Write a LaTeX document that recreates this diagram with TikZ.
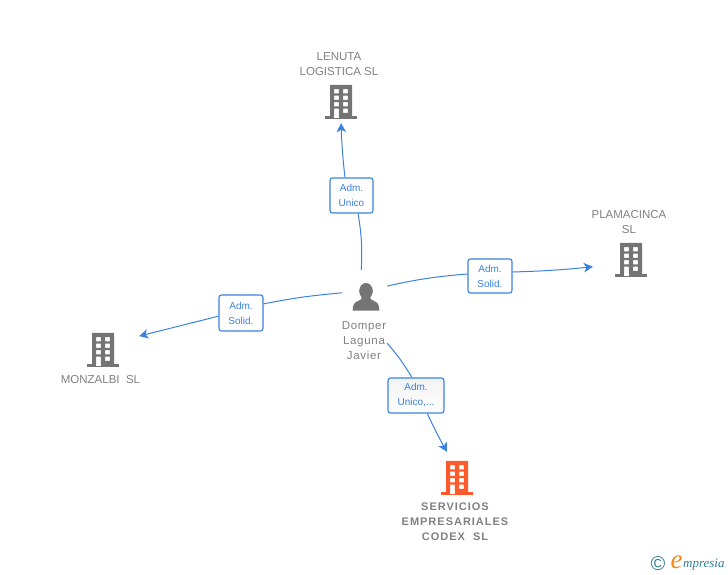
\documentclass[tikz,border=0pt]{standalone}
\usepackage{fontspec}
\setmainfont{Liberation Sans}
\newfontfamily\logofont{Liberation Serif}
\usetikzlibrary{arrows.meta}
\definecolor{txtgray}{HTML}{808080}
\definecolor{icongray}{HTML}{747474}
\definecolor{linkblue}{HTML}{3B82DE}
\definecolor{iconorange}{HTML}{FF5A2B}
\definecolor{logoteal}{HTML}{2F7F95}
\definecolor{logoorange}{HTML}{F08A1D}
\tikzset{
  x=1pt,y=1pt,
  captxt/.style={text=txtgray,align=center,inner sep=0pt,font=\fontsize{11.5}{15}\selectfont},
  role/.style={draw=linkblue,line width=1.1pt,rounded corners=2.5pt,fill=white,text=linkblue,
     align=center,inner sep=0pt,font=\fontsize{10}{15}\selectfont},
  link/.style={draw=linkblue,line width=1pt},
  arrowlink/.style={link,-{Stealth[length=9pt,width=9.5pt,inset=2.5pt]}},
  slot/.style={inner sep=0pt,minimum width=76pt},
  pics/bldg/.style={code={
    \fill[#1,even odd rule]
      (-11,-17) rectangle (11,17)
      (-6.8,12.8) rectangle (-2.2,8.6) (2.2,12.8) rectangle (6.8,8.6)
      (-6.8,6.4) rectangle (-2.2,2.2) (2.2,6.4) rectangle (6.8,2.2)
      (-6.8,-0.1) rectangle (-2.2,-4.3) (2.2,-0.1) rectangle (6.8,-4.3)
      (-6.8,-6.6) rectangle (-2.2,-17) (2.2,-6.6) rectangle (6.8,-10.8);
    \fill[#1] (-16,-17) rectangle (16,-14.5);
    \fill[white] (-6.8,-14.5) rectangle (-2.2,-15.6);
  }}
}
\begin{document}
\begin{tikzpicture}
\useasboundingbox (0,0) rectangle (728,575);
% entity slots (invisible), icons drawn in them
\node[slot,minimum height=42pt] (lenuta) at (341,473) {};
\node[slot,minimum height=42pt] (plama) at (631,315) {};
\node[slot,minimum width=72pt,minimum height=42pt] (monza) at (103,225) {};
\node[slot,minimum height=52pt] (servi) at (457,97) {};
\node[inner sep=0pt,minimum width=45pt,minimum height=73pt] (person) at (364.5,268.5) {};
\pic at (lenuta) {bldg=icongray};
\pic at (plama) {bldg=icongray};
\pic at (monza) {bldg=icongray};
\pic at (servi) {bldg=iconorange};
% person icon
\fill[icongray] (366,284) ellipse (6.8pt and 8pt);
\fill[icongray] (352.7,264.3) .. controls (352.7,270) and (354,272.5) .. (358,274)
  .. controls (361,275) and (362,276) .. (362,279) -- (370,279)
  .. controls (370,276) and (371,275) .. (374,274)
  .. controls (378,272.5) and (379.3,270) .. (379.3,264.3) -- cycle;
% role labels
\node[role,minimum width=43pt,minimum height=35pt] (r1) at (351.5,379.5) {Adm.\\Unico};
\node[role,minimum width=44pt,minimum height=36pt] (r2) at (241,262) {Adm.\\Solid.};
\node[role,minimum width=44pt,minimum height=34pt] (r3) at (490,299) {Adm.\\Solid.};
\node[role,minimum width=56pt,minimum height=35pt,top color=black!5,bottom color=white] (r4) at (416,179.5) {Adm.\\Unico,...};
% connectors
\draw[link] (person.95) to[bend right=6] (r1.-70);
\draw[arrowlink] (r1.110) to[bend left=2] (lenuta.south);
\draw[link] (person.42) to[bend left=4] (r3.175);
\draw[arrowlink] (r3.10) to[bend right=2] (plama.190);
\draw[link] (person.149) to[bend right=3] (r2.22);
\draw[arrowlink] (r2.188) to (monza.21);
\draw[link] (person.south east) to[bend left=5] (r4.103);
\draw[arrowlink] (r4.-58) to[bend right=2] (servi.111);
% captions
\node[captxt] (t1) at (339,510.5) {LENUTA\\LOGISTICA SL};
\node[captxt] (t2) at (629,353) {PLAMACINCA\\SL};
\node[captxt] (t3) at (100.5,195.5) {MONZALBI\ \ SL};
\node[captxt,font={\fontsize{11.5}{15}\selectfont\addfontfeature{LetterSpace=6}}] (t4) at (364,234.5) {Domper\\Laguna\\Javier};
\node[captxt,font={\fontsize{11}{15}\selectfont\bfseries\addfontfeature{LetterSpace=9}}] (t5) at (455,53.5) {SERVICIOS\\EMPRESARIALES\\CODEX\ \ SL};
% logo
\node[inner sep=0pt,text=logoteal,font=\fontsize{20}{20}\selectfont] (copy) at (658,11.5) {©};
\node[inner sep=0pt,anchor=base west,text=logoorange,font={\logofont\itshape\fontsize{27}{27}\selectfont}] (loge) at (670.5,6) {e};
\node[inner sep=0pt,anchor=base west,text=logoteal,font={\logofont\itshape\fontsize{13}{13}\selectfont}] (logt) at (683,7) {mpresia};
\end{tikzpicture}
\end{document}
